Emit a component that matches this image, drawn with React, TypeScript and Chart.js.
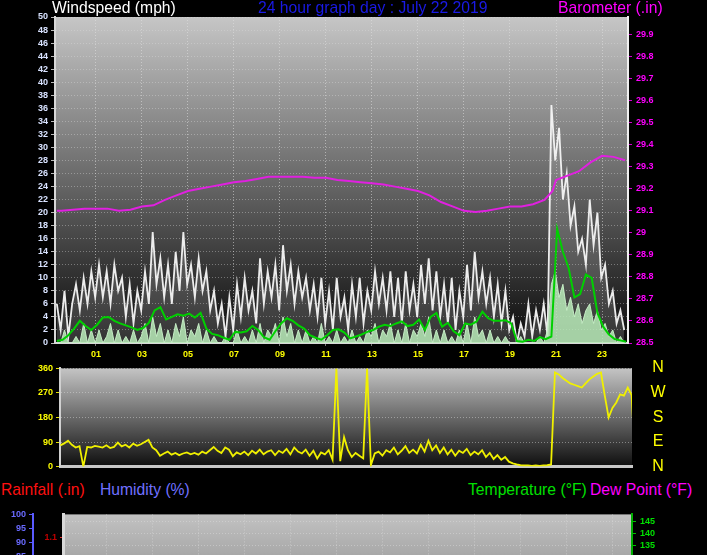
import React, { useEffect, useRef } from 'react';
import { Chart, registerables } from 'chart.js';
Chart.register(...registerables);

// ---------- DATA ----------
const SAMPLE_START_HOUR = -0.7;
const SAMPLE_STEP_HOUR = 1 / 6;
const gustMph = [
  6, 2, 8, 1, 6,
  9, 5, 10, 6, 11, 7,
  12, 7, 11, 6, 12, 8,
  10, 4, 9, 3, 8, 5,
  11, 6, 17, 9, 13, 7,
  12, 6, 14, 8, 17, 9,
  12, 7, 13, 8, 11, 5,
  8, 3, 6, 1, 7, 2,
  9, 4, 10, 5, 8, 3,
  13, 6, 11, 7, 12, 5,
  15, 8, 12, 6, 11, 7,
  10, 5, 9, 4, 10, 3,
  8, 2, 10, 4, 7, 2,
  9, 4, 10, 3, 8, 5,
  11, 6, 10, 5, 11, 4,
  10, 3, 11, 5, 9, 4,
  12, 6, 13, 5, 11, 4,
  9, 3, 10, 2, 8, 4,
  12, 5, 14, 7, 11, 6,
  10, 4, 9, 3, 8, 2,
  4, 0, 3, 1, 6, 1,
  5, 2, 6, 1,
  36.5, 28, 33, 22, 26, 18, 21, 14, 16, 12, 22, 15, 20, 10, 12, 6, 8, 3, 5, 2,
];
const windMph = [
  0, 0, 2, 0, 0,
  1, 0, 3, 0, 2, 0,
  2, 0, 1, 3, 0, 2,
  0, 1, 0, 2, 0, 1,
  3, 0, 4, 1, 3, 0,
  2, 0, 3, 1, 4, 0,
  2, 1, 3, 0, 2, 0,
  1, 0, 0, 1, 0, 0,
  2, 0, 1, 0, 2, 0,
  3, 0, 2, 1, 3, 0,
  4, 1, 3, 0, 2, 0,
  2, 0, 1, 0, 3, 0,
  1, 0, 2, 0, 1, 0,
  2, 0, 1, 0, 2, 1,
  3, 0, 2, 1, 3, 0,
  2, 0, 3, 0, 2, 1,
  3, 1, 4, 0, 2, 0,
  2, 0, 1, 0, 2, 0,
  3, 0, 4, 1, 2, 0,
  2, 0, 1, 0, 1, 0,
  0, 0, 1, 0, 0, 0,
  0, 1, 0, 2,
  9, 11, 7, 9, 5, 7, 4, 6, 3, 5, 6, 3, 5, 2, 3, 1, 2, 0, 1, 0,
];
const AVG_START_HOUR = -0.7;
const AVG_STEP_HOUR = 0.25;
const avgMph = [
  0.3, 0.5, 1.2, 2.2, 3.4, 2.6, 2.0, 2.8, 3.9, 4.0,
  3.4, 3.0, 2.7, 2.4, 2.0, 2.3, 3.1, 5.0, 5.5, 3.6,
  4.0, 4.4, 4.2, 4.5, 3.9, 4.6, 2.2, 1.4, 1.2, 0.8,
  0.5, 1.7, 1.6, 1.8, 2.6, 2.0, 0.9, 0.5, 1.8, 3.0,
  3.8, 3.4, 2.7, 2.2, 1.2, 0.8, 0.5, 1.2, 2.0, 2.1,
  1.6, 0.7, 1.0, 1.3, 1.7, 2.0, 2.5, 2.8, 2.6, 3.0,
  3.3, 2.6, 2.8, 3.6, 2.0, 4.0, 4.6, 2.5, 3.1, 1.8,
  1.2, 3.0, 2.8, 3.3, 4.8, 3.8, 3.4, 3.4, 3.5, 3.0,
  0.3, 0.2, 0.5, 0.3, 0.9, 0.6, 1.0, 17.5, 14.0, 11.5,
  7.0, 7.5, 10.5, 10.0, 4.6, 2.5, 1.3, 0.6, 0.4, 0.2,
];
const baroHours = [
  -0.7, -0.5, 0, 0.5, 1, 1.5, 2, 2.5, 3, 3.5, 4, 4.5, 5, 5.5, 6, 6.5, 7, 7.5, 8, 8.5,
  9, 9.5, 10, 10.5, 11, 11.5, 12, 12.5, 13, 13.5, 14, 14.5, 15, 15.5, 16, 16.5, 17, 17.5,
  18, 18.5, 19, 19.5, 20, 20.5, 20.85, 21, 21.5, 22, 22.5, 23, 23.5, 24,
];
const baroIn = [
  29.10, 29.10, 29.105, 29.11, 29.11, 29.11, 29.10, 29.105, 29.12, 29.125, 29.15, 29.17,
  29.19, 29.20, 29.21, 29.22, 29.23, 29.235, 29.245, 29.255, 29.255, 29.255, 29.255, 29.25,
  29.25, 29.24, 29.235, 29.23, 29.225, 29.22, 29.21, 29.20, 29.19, 29.17, 29.14, 29.12,
  29.10, 29.095, 29.10, 29.11, 29.12, 29.12, 29.13, 29.15, 29.19, 29.24, 29.26, 29.28,
  29.32, 29.35, 29.345, 29.33,
];
const DIR_START_HOUR = -0.55;
const directionDeg = [
  78, 85, 95, 80, 70, 75, 0, 72, 70, 76, 73, 70, 78, 68, 72, 88, 74, 80, 70, 84,
  76, 82, 90, 98, 70, 60, 40, 48, 55, 44, 50, 42, 48, 52, 45, 50, 44, 55, 48, 60,
  72, 58, 50, 70, 62, 38, 52, 45, 55, 42, 58, 48, 62, 45, 55, 60, 42, 58, 50, 65,
  45, 70, 55, 48, 62, 40, 58, 30, 52, 45, 60, 25, 360, 20, 108, 60, 35, 50, 40, 30,
  360, 5, 48, 55, 40, 60, 52, 70, 45, 58, 75, 50, 62, 48, 80, 55, 95, 60, 78, 50,
  70, 45, 62, 40, 58, 50, 65, 42, 55, 45, 60, 35, 50, 28, 42, 25, 35, 18, 12, 8,
  5, 4, 4, 3, 4, 3, 4, 5, 8, 345, 338, 325, 315, 305, 300, 295, 290, 305, 320, 330,
  340, 345, 260, 180, 215, 235, 265, 260, 290, 262, 0,
];
const hourTicks = [1, 3, 5, 7, 9, 11, 13, 15, 17, 19, 21, 23];
const baroTicks = [28.5, 28.6, 28.7, 28.8, 28.9, 29.0, 29.1, 29.2, 29.3, 29.4, 29.5, 29.6, 29.7, 29.8, 29.9];
const directionTicks = [0, 90, 180, 270, 360];
const rainTicks = [0.1, 0.2, 0.3, 0.4, 0.5, 0.6, 0.7, 0.8, 0.9, 1.0, 1.1];
const tempTicks = [35, 40, 45, 50, 55, 60, 65, 70, 75, 80, 85, 90, 95, 100, 105, 110, 115, 120, 125, 130, 135, 140, 145];
const compassLabels = ['N', 'W', 'S', 'E', 'N'];

// ---------- HELPERS ----------
const FONT = "'Liberation Sans', Arial, sans-serif";
const tickFont = { size: 9, family: FONT, weight: 'bold' as const };

const bgPlugin = (top: string, bottom: string) => ({
  id: 'bgGrad',
  beforeDraw(chart: any) {
    const { ctx, chartArea: a } = chart;
    if (!a) return;
    const g = ctx.createLinearGradient(0, a.top, 0, a.bottom);
    g.addColorStop(0, top);
    g.addColorStop(1, bottom);
    ctx.save();
    ctx.fillStyle = g;
    ctx.fillRect(a.left, a.top, a.right - a.left, a.bottom - a.top);
    ctx.restore();
  },
});
const fixW = (w: number) => (s: any) => { s.width = w; };
const fixH = (h: number) => (s: any) => { s.height = h; };
const setTicks = (vals: number[]) => (s: any) => { s.ticks = vals.map((v) => ({ value: v })); };
const series = (vals: number[], start: number, step: number) => vals.map((v, i) => ({ x: start + i * step, y: v }));

function useChart(ref: React.RefObject<HTMLCanvasElement>, make: () => any) {
  useEffect(() => {
    if (!ref.current) return;
    const c = new Chart(ref.current, make());
    return () => c.destroy();
  }, []);
}

export default function App() {
  const topRef = useRef<HTMLCanvasElement>(null);
  const dirRef = useRef<HTMLCanvasElement>(null);
  const botRef = useRef<HTMLCanvasElement>(null);

  useEffect(() => {
    document.body.style.margin = '0';
    document.body.style.background = '#000';
  }, []);

  useChart(topRef, () => ({
    type: 'line',
    data: {
      datasets: [
        { data: baroHours.map((h, i) => ({ x: h, y: baroIn[i] })), yAxisID: 'baro', borderColor: '#e020e0', borderWidth: 2, pointRadius: 0, order: 0 },
        { data: series(avgMph, AVG_START_HOUR, AVG_STEP_HOUR), yAxisID: 'y', borderColor: '#00d000', borderWidth: 2, pointRadius: 0, order: 1 },
        { data: series(windMph, SAMPLE_START_HOUR, SAMPLE_STEP_HOUR), yAxisID: 'y', borderColor: 'rgba(200,240,200,0.95)', backgroundColor: 'rgba(185,235,185,0.85)', fill: 'origin', borderWidth: 1, pointRadius: 0, order: 2 },
        { data: series(gustMph, SAMPLE_START_HOUR, SAMPLE_STEP_HOUR), yAxisID: 'y', borderColor: 'rgba(245,245,245,0.95)', backgroundColor: 'rgba(200,200,200,0.22)', fill: 'origin', borderWidth: 1.8, pointRadius: 0, order: 3 },
      ],
    },
    options: {
      animation: false, responsive: false, events: [],
      layout: { padding: { top: 17, left: 0, right: 0, bottom: 0 } },
      plugins: { legend: { display: false }, tooltip: { enabled: false } },
      scales: {
        x: {
          type: 'linear', min: -0.78, max: 24.13,
          afterBuildTicks: setTicks(hourTicks), afterFit: fixH(17),
          ticks: { color: '#ffff00', font: tickFont, maxRotation: 0, autoSkip: false, padding: 3, callback: (v: number) => String(v).padStart(2, '0') },
          grid: { color: 'rgba(225,225,225,0.55)', tickLength: 3, tickColor: '#777' },
          border: { color: '#d8d8d8', width: 2, dash: [1, 2] },
        },
        y: {
          position: 'left', min: 0, max: 50, afterFit: fixW(55),
          ticks: { stepSize: 2, autoSkip: false, color: '#d8e2ff', font: tickFont, padding: 3 },
          grid: { color: 'rgba(220,220,220,0.4)', tickLength: 4, tickColor: '#bbb' },
          border: { color: '#d8d8d8', width: 2, dash: [1, 2] },
        },
        baro: {
          position: 'right', min: 28.5, max: 29.98, afterFit: fixW(79),
          afterBuildTicks: setTicks(baroTicks),
          ticks: { autoSkip: false, color: '#ff00ff', font: tickFont, padding: 4, callback: (v: number) => String(Math.round(v * 10) / 10) },
          grid: { drawOnChartArea: false, tickLength: 4, tickColor: '#d000d0' },
          border: { color: '#f0f0f0', width: 2 },
        },
      },
    },
    plugins: [bgPlugin('#c6c6c6', '#0a0a0a')],
  }));

  useChart(dirRef, () => ({
    type: 'line',
    data: {
      datasets: [
        { data: series(directionDeg, DIR_START_HOUR, SAMPLE_STEP_HOUR), borderColor: '#f0f000', borderWidth: 1.8, pointRadius: 0 },
      ],
    },
    options: {
      animation: false, responsive: false, events: [],
      layout: { padding: { top: 7, left: 0, right: 75, bottom: 0 } },
      plugins: { legend: { display: false }, tooltip: { enabled: false } },
      scales: {
        x: {
          type: 'linear', min: -0.565, max: 24.3, afterFit: fixH(7),
          ticks: { display: false },
          grid: { display: false },
          border: { display: true, color: '#c8c8c8', width: 3 },
        },
        y: {
          min: 0, max: 360, afterFit: fixW(60),
          afterBuildTicks: setTicks(directionTicks),
          ticks: { color: '#ffff00', font: tickFont, padding: 3 },
          grid: { color: 'rgba(225,225,225,0.45)', tickLength: 4, tickColor: '#e0e000' },
          border: { color: '#d0d0d0', width: 2, dash: [1, 2] },
        },
      },
    },
    plugins: [bgPlugin('#c4c4c4', '#0e0e0e')],
  }));

  useChart(botRef, () => ({
    type: 'line',
    data: { datasets: [] },
    options: {
      animation: false, responsive: false, events: [],
      layout: { padding: { top: 5, left: 0, right: 0, bottom: 5 } },
      plugins: { legend: { display: false }, tooltip: { enabled: false } },
      scales: {
        x: {
          type: 'linear', min: -0.913, max: 23.83, afterFit: fixH(0),
          afterBuildTicks: setTicks(hourTicks),
          ticks: { display: false },
          grid: { color: 'rgba(225,225,225,0.5)', tickLength: 0 },
          border: { display: false, dash: [1, 2] },
        },
        hum: {
          position: 'left', weight: 1, min: 0, max: 100, afterFit: fixW(33),
          ticks: { stepSize: 5, autoSkip: false, color: '#6a6aff', font: tickFont, padding: 3 },
          grid: { drawOnChartArea: false, tickLength: 4, tickColor: '#5a5aff' },
          border: { color: '#5a5aff', width: 2 },
        },
        rain: {
          position: 'left', weight: 0, min: 0, max: 1.2, afterFit: fixW(30),
          afterBuildTicks: setTicks(rainTicks),
          ticks: { autoSkip: false, color: '#c00000', font: tickFont, padding: 3, callback: (v: number) => String(Math.round(v * 10) / 10) },
          grid: { drawOnChartArea: false, tickLength: 3, tickColor: '#e03030' },
          border: { color: '#d8d8d8', width: 3 },
        },
        temp: {
          position: 'right', min: 32, max: 148, afterFit: fixW(75),
          afterBuildTicks: setTicks(tempTicks),
          ticks: { autoSkip: false, color: '#00e000', font: tickFont, padding: 4 },
          grid: { color: 'rgba(225,225,225,0.45)', tickLength: 4, tickColor: '#00c000' },
          border: { color: '#00b000', width: 2, dash: [1, 2] },
        },
      },
    },
    plugins: [bgPlugin('#c2c2c2', '#0e0e0e')],
  }));

  const txt = (s: string, left: number, top: number, color: string, size = 15.7) => (
    <div style={{ position: 'absolute', left, top, color, fontFamily: FONT, fontSize: size, lineHeight: `${size}px`, whiteSpace: 'nowrap' }}>{s}</div>
  );

  return (
    <div style={{ position: 'relative', width: 707, height: 555, overflow: 'hidden', background: '#000' }}>
      <canvas ref={topRef} width={707} height={360} style={{ position: 'absolute', left: 0, top: 0 }} />
      <canvas ref={dirRef} width={707} height={115} style={{ position: 'absolute', left: 0, top: 360 }} />
      <canvas ref={botRef} width={707} height={300} style={{ position: 'absolute', left: 0, top: 505 }} />
      {txt('Windspeed (mph)', 52, 0, '#ffffff')}
      {txt('24 hour graph day : July 22 2019', 258, 0, '#1a1ae6')}
      {txt('Barometer (.in)', 558, 0, '#ff00ff')}
      {txt('Rainfall (.in)', 1, 482, '#ff1010')}
      {txt('Humidity (%)', 100, 482, '#7070ff')}
      {txt('Temperature (°F)', 468, 482, '#00e000')}
      {txt('Dew Point (°F)', 590, 482, '#ff00ff')}
      {compassLabels.map((c, i) => (
        <div key={i} style={{ position: 'absolute', left: 650, width: 16, textAlign: 'center', top: 358 + i * 24.8, color: '#ffff00', fontFamily: FONT, fontSize: 16, lineHeight: '18px' }}>{c}</div>
      ))}
    </div>
  );
}
